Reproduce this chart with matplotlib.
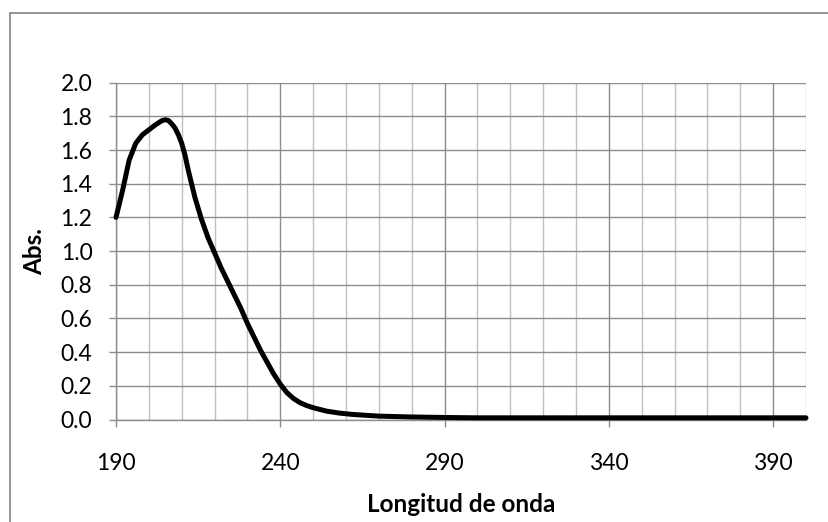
import numpy as np
import matplotlib.pyplot as plt
from matplotlib.patches import Rectangle

# wavelength (nm) and absorbance
wavelength = [190, 192, 194, 196, 198, 200, 202, 204, 205, 206, 207, 208, 209, 210,
              211, 212, 213, 214, 216, 218, 220, 222, 224, 226, 228, 230, 232, 234,
              236, 238, 240, 242, 244, 246, 248, 250, 254, 258, 262, 266, 270, 280,
              290, 300, 350, 400]
absorbance = [1.20, 1.36, 1.54, 1.64, 1.69, 1.72, 1.75, 1.775, 1.78, 1.775, 1.755,
              1.73, 1.69, 1.64, 1.57, 1.48, 1.40, 1.32, 1.19, 1.08, 0.99, 0.90, 0.82,
              0.74, 0.66, 0.57, 0.49, 0.41, 0.34, 0.27, 0.21, 0.16, 0.125, 0.10, 0.083,
              0.07, 0.05, 0.038, 0.03, 0.025, 0.02, 0.015, 0.012, 0.01, 0.01, 0.01]

x_ticks = [190, 240, 290, 340, 390]
y_ticks = [0.0, 0.2, 0.4, 0.6, 0.8, 1.0, 1.2, 1.4, 1.6, 1.8, 2.0]

plt.rcParams['font.family'] = ['Lato', 'DejaVu Sans']

def main():
    fig = plt.figure(figsize=(8.29, 5.22), dpi=100)
    ax = fig.add_axes([116/829, 1 - 419.5/522, (806 - 116)/829, (419.5 - 82.7)/522])

    # chart area border (clipped at right and bottom like the reference)
    fig.patches.append(Rectangle((10.5/829, -0.1), 1.2, 1.1 - 12.5/522,
                                 transform=fig.transFigure, fill=False,
                                 edgecolor='#8c8c8c', linewidth=1.3))

    ax.plot(wavelength, absorbance, color='black', lw=3.6, zorder=3,
            solid_joinstyle='round', solid_capstyle='round', clip_on=False)

    ax.set_xlim(190, 400)
    ax.set_ylim(0, 2.0)
    ax.set_xticks(x_ticks)
    ax.set_xticks(np.arange(200, 401, 10), minor=True)
    ax.set_yticks(y_ticks)
    ax.set_yticklabels(['%.1f' % v for v in y_ticks])

    ax.grid(axis='y', which='major', color='#8c8c8c', lw=1.0)
    ax.grid(axis='x', which='major', color='#8c8c8c', lw=1.0)
    ax.grid(axis='x', which='minor', color='#c0c0c0', lw=1.0)
    ax.set_axisbelow(True)

    for s in ['top', 'right']:
        ax.spines[s].set_visible(False)
    for s in ['left', 'bottom']:
        ax.spines[s].set_color('#8c8c8c')
        ax.spines[s].set_linewidth(1.0)

    ax.tick_params(axis='both', which='major', direction='out', length=5,
                   color='#8c8c8c', width=1.0, labelsize=16.5)
    ax.tick_params(axis='x', which='major', pad=19)
    ax.tick_params(axis='y', which='major', pad=12)
    ax.tick_params(axis='x', which='minor', length=0)

    ax.set_xlabel('Longitud de onda', fontsize=17.5, fontweight='bold', labelpad=14)
    ax.set_ylabel('Abs.', fontsize=17.5, fontweight='bold', labelpad=10)

    fig.savefig('out.png', dpi=100)

if __name__ == "__main__":
    main()
